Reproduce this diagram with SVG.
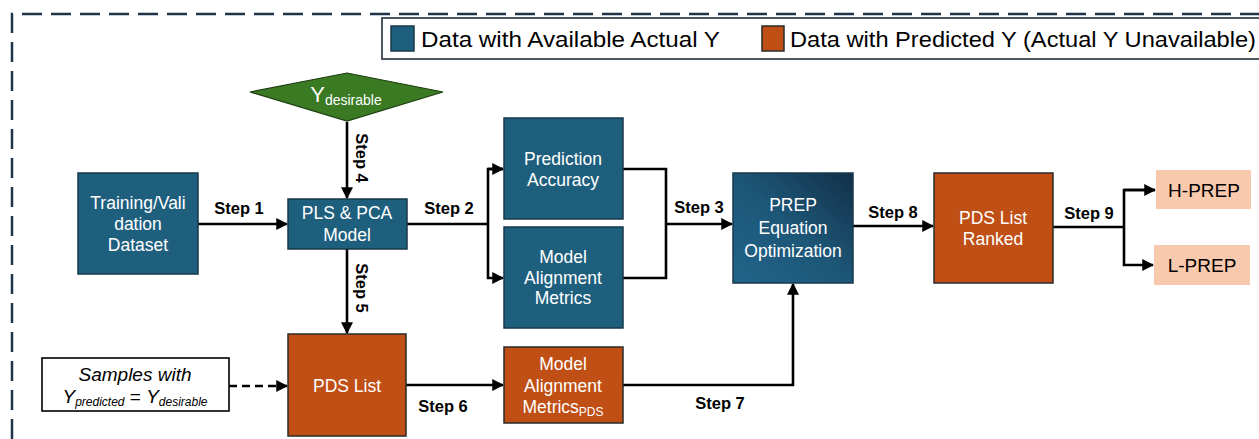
<svg xmlns="http://www.w3.org/2000/svg" width="1259" height="439" viewBox="0 0 1259 439">
  <style>
    .frame { fill: none; stroke: #1f3447; stroke-width: 2.5; stroke-dasharray: 20 9; }
    .blue { fill: #1f5f7e; stroke: #17394c; stroke-width: 1.5; }
    .orange { fill: #c04f15; stroke: #2a2a2a; stroke-width: 1.5; }
    .peach { fill: #f8c9ad; stroke: none; }
    .wt { fill: #ffffff; font-family: "Liberation Sans", Arial, sans-serif; font-size: 17.5px; text-anchor: middle; }
    .bt { fill: #000000; font-family: "Liberation Sans", Arial, sans-serif; font-size: 19px; text-anchor: middle; }
    .step { fill: #000000; font-family: "Liberation Sans", Arial, sans-serif; font-size: 16.5px; font-weight: bold; text-anchor: middle; }
    .leg { fill: #000000; font-family: "Liberation Sans", Arial, sans-serif; font-size: 22px; }
    .wire { fill: none; stroke: #000000; stroke-width: 2.6; }
    .dash { fill: none; stroke: #000000; stroke-width: 2.6; stroke-dasharray: 8 5; }
  </style>
  <defs>
    <marker id="arrow" viewBox="0 0 10 10" refX="9" refY="5" markerWidth="4.6" markerHeight="4.6" orient="auto" markerUnits="strokeWidth">
      <path d="M0,0 L10,5 L0,10 z" fill="#000000"/>
    </marker>
    <linearGradient id="prepGrad" x1="0" y1="1" x2="1" y2="0">
      <stop offset="0" stop-color="#22648a"/>
      <stop offset="0.5" stop-color="#1d5677"/>
      <stop offset="1" stop-color="#123048"/>
    </linearGradient>
  </defs>

  <rect width="1259" height="439" fill="#ffffff"/>

  <!-- dashed outer frame (top and left edges visible) -->
  <path class="frame" d="M12,439 L12,14 L1262,14"/>

  <!-- legend -->
  <g id="legend">
    <rect x="382" y="18" width="882" height="41" fill="#ffffff" stroke="#3a4550" stroke-width="1.8"/>
    <rect class="blue" x="391" y="26" width="23" height="25"/>
    <text class="leg" x="421" y="47" textLength="299" lengthAdjust="spacingAndGlyphs">Data with Available Actual Y</text>
    <rect class="orange" x="762" y="26" width="22" height="25"/>
    <text class="leg" x="790" y="47" textLength="466" lengthAdjust="spacingAndGlyphs">Data with Predicted Y (Actual Y Unavailable)</text>
  </g>

  <!-- connectors -->
  <g id="connectors">
    <path class="wire" d="M347,122 L347,198" marker-end="url(#arrow)"/>
    <path class="wire" d="M198,224 L287,224" marker-end="url(#arrow)"/>
    <path class="wire" d="M347,249 L347,333" marker-end="url(#arrow)"/>
    <path class="dash" d="M229,386 L287,386" marker-end="url(#arrow)"/>
    <path class="wire" d="M407,224 L488,224"/>
    <path class="wire" d="M503,169 L488,169 L488,278 L503,278" marker-end="url(#arrow)"/>
    <path class="wire" d="M488,169 L503,169" marker-end="url(#arrow)"/>
    <path class="wire" d="M623,169 L666,169 L666,278 L623,278"/>
    <path class="wire" d="M666,224 L732,224" marker-end="url(#arrow)"/>
    <path class="wire" d="M853,226 L933,226" marker-end="url(#arrow)"/>
    <path class="wire" d="M1053,227 L1124,227"/>
    <path class="wire" d="M1155,190 L1124,190 L1124,265 L1153,265" marker-end="url(#arrow)"/>
    <path class="wire" d="M1124,190 L1155,190" marker-end="url(#arrow)"/>
    <path class="wire" d="M406,385 L503,385" marker-end="url(#arrow)"/>
    <path class="wire" d="M623,385 L793,385 L793,284" marker-end="url(#arrow)"/>

    <text class="step" x="239" y="214">Step 1</text>
    <text class="step" x="449" y="214">Step 2</text>
    <text class="step" x="699" y="213">Step 3</text>
    <text class="step" transform="translate(356,158) rotate(90)">Step 4</text>
    <text class="step" transform="translate(356,288) rotate(90)">Step 5</text>
    <text class="step" x="443" y="412">Step 6</text>
    <text class="step" x="720" y="409">Step 7</text>
    <text class="step" x="893" y="218">Step 8</text>
    <text class="step" x="1089" y="219">Step 9</text>
  </g>

  <!-- nodes -->
  <g id="y-desirable">
    <polygon points="250,92 347,73 443,92 347,121" fill="#3a7a22" stroke="#1e3d12" stroke-width="1.2"/>
    <text class="wt" x="346" y="102"><tspan font-size="22">Y</tspan><tspan font-size="14" dy="3">desirable</tspan></text>
  </g>

  <g id="training">
    <rect class="blue" x="78" y="173" width="120" height="101"/>
    <text class="wt" x="138" y="209">Training/Vali</text>
    <text class="wt" x="138" y="230">dation</text>
    <text class="wt" x="138" y="251">Dataset</text>
  </g>

  <g id="pls-pca">
    <rect class="blue" x="288" y="199" width="119" height="50"/>
    <text class="wt" x="347" y="219">PLS &amp; PCA</text>
    <text class="wt" x="347" y="241">Model</text>
  </g>

  <g id="prediction-accuracy">
    <rect class="blue" x="504" y="118" width="119" height="101"/>
    <text class="wt" x="563" y="165">Prediction</text>
    <text class="wt" x="563" y="186">Accuracy</text>
  </g>

  <g id="model-alignment">
    <rect class="blue" x="504" y="227" width="119" height="101"/>
    <text class="wt" x="563" y="263">Model</text>
    <text class="wt" x="563" y="284">Alignment</text>
    <text class="wt" x="563" y="304">Metrics</text>
  </g>

  <g id="prep-optimization">
    <rect x="733" y="173" width="120" height="110" fill="url(#prepGrad)" stroke="#17394c" stroke-width="1.5"/>
    <text class="wt" x="793" y="211">PREP</text>
    <text class="wt" x="793" y="234">Equation</text>
    <text class="wt" x="793" y="257">Optimization</text>
  </g>

  <g id="pds-ranked">
    <rect class="orange" x="934" y="173" width="119" height="110"/>
    <text class="wt" x="993" y="224">PDS List</text>
    <text class="wt" x="993" y="245">Ranked</text>
  </g>

  <g id="h-prep">
    <rect class="peach" x="1156" y="170" width="95" height="39"/>
    <text class="bt" x="1204" y="197">H-PREP</text>
  </g>

  <g id="l-prep">
    <rect class="peach" x="1154" y="245" width="96" height="40"/>
    <text class="bt" x="1202" y="272">L-PREP</text>
  </g>

  <g id="samples">
    <rect x="42" y="358" width="187" height="53" fill="#ffffff" stroke="#000000" stroke-width="1.6"/>
    <text class="bt" x="135" y="381" font-size="17" font-style="italic">Samples with</text>
    <text class="bt" x="135" y="403" font-size="17"><tspan font-style="italic">Y</tspan><tspan font-size="12" font-style="italic" dy="3">predicted</tspan><tspan dy="-3"> = </tspan><tspan font-style="italic">Y</tspan><tspan font-size="12" font-style="italic" dy="3">desirable</tspan></text>
  </g>

  <g id="pds-list">
    <rect class="orange" x="288" y="334" width="118" height="102"/>
    <text class="wt" x="347" y="392">PDS List</text>
  </g>

  <g id="model-alignment-pds">
    <rect class="orange" x="504" y="347" width="119" height="76"/>
    <text class="wt" x="563" y="370">Model</text>
    <text class="wt" x="563" y="392">Alignment</text>
    <text class="wt" x="563" y="413">Metrics<tspan font-size="12" dy="3">PDS</tspan></text>
  </g>
</svg>
